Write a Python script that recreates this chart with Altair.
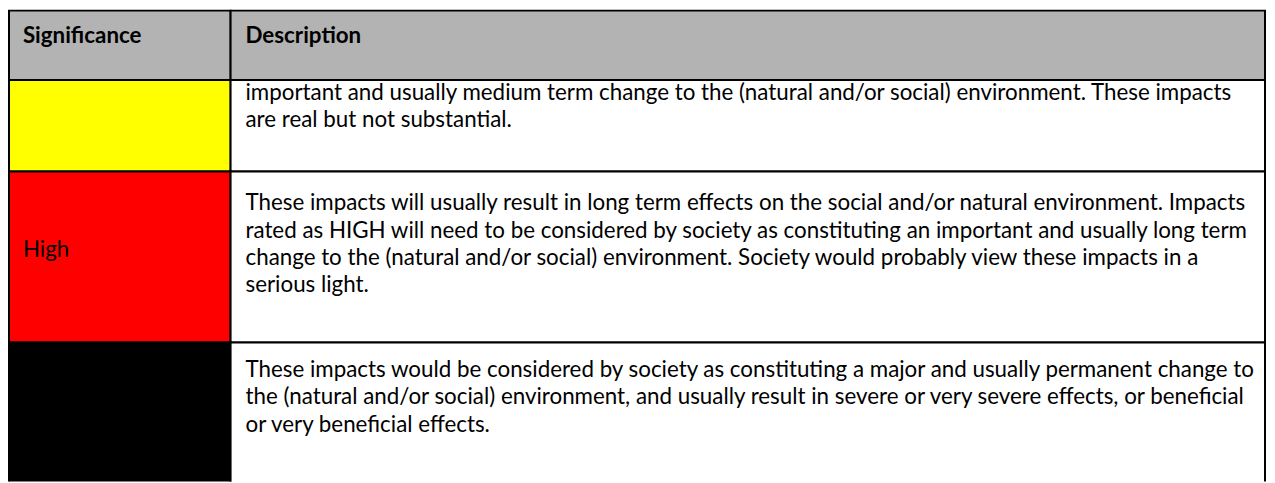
import altair as alt
import pandas as pd

# ---- content ----
header_labels = ["Significance", "Description"]
significance = ["", "High", ""]
row_colors = ["#FFFF00", "#FF0000", "#000000"]
header_color = "#B3B3B3"
descriptions = [
    [
        "important and usually medium term change to the (natural and/or social) environment. These impacts",
        "are real but not substantial.",
    ],
    [
        "These impacts will usually result in long term effects on the social and/or natural environment. Impacts",
        "rated as HIGH will need to be considered by society as constituting an important and usually long term",
        "change to the (natural and/or social) environment. Society would probably view these impacts in a",
        "serious light.",
    ],
    [
        "These impacts would be considered by society as constituting a major and usually permanent change to",
        "the (natural and/or social) environment, and usually result in severe or very severe effects, or beneficial",
        "or very beneficial effects.",
    ],
]

# ---- layout ----
W, H = 1267, 475
col_edges = [1, 224, 1265]
row_edges = [1, 71, 163, 335, 482]
first_baseline = [34, 91, 202, 370]
high_baseline = 249
line_gap = 27.5
text_x = [15, 239]
FONT = "Lato"
FS = 22.5

cells = []
for c in range(2):
    cells.append(dict(x0=col_edges[c], x1=col_edges[c + 1], y0=row_edges[0], y1=row_edges[1], fill=header_color))
for r in range(3):
    cells.append(dict(x0=col_edges[0], x1=col_edges[1], y0=row_edges[r + 1], y1=row_edges[r + 2], fill=row_colors[r]))
    cells.append(dict(x0=col_edges[1], x1=col_edges[2], y0=row_edges[r + 1], y1=row_edges[r + 2], fill="#FFFFFF"))
cells_df = pd.DataFrame(cells)

head_df = pd.DataFrame(
    [dict(x=text_x[c], y=first_baseline[0], text=header_labels[c]) for c in range(2)]
)

body = []
for r in range(3):
    body.append(dict(x=text_x[0], y=high_baseline if significance[r] else first_baseline[r + 1], text=significance[r]))
    for i, line in enumerate(descriptions[r]):
        body.append(dict(x=text_x[1], y=first_baseline[r + 1] + i * line_gap, text=line))
body_df = pd.DataFrame(body)

xs = alt.Scale(domain=[0, W])
ys = alt.Scale(domain=[0, H], reverse=True)

rects = alt.Chart(cells_df).mark_rect(stroke="black", strokeWidth=2, clip=True).encode(
    x=alt.X("x0:Q", scale=xs, axis=None),
    x2="x1:Q",
    y=alt.Y("y0:Q", scale=ys, axis=None),
    y2="y1:Q",
    fill=alt.Fill("fill:N", scale=None),
)

head = alt.Chart(head_df).mark_text(
    align="left", baseline="alphabetic", font=FONT, fontSize=FS, fontWeight="bold", color="#000000"
).encode(
    x=alt.X("x:Q", scale=xs, axis=None),
    y=alt.Y("y:Q", scale=ys, axis=None),
    text="text:N",
)

txt = alt.Chart(body_df).mark_text(
    align="left", baseline="alphabetic", font=FONT, fontSize=FS, color="#000000"
).encode(
    x=alt.X("x:Q", scale=xs, axis=None),
    y=alt.Y("y:Q", scale=ys, axis=None),
    text="text:N",
)

chart = (
    alt.layer(rects, head, txt)
    .properties(width=W, height=H, padding=0, autosize=alt.AutoSizeParams(type="none"))
    .configure_view(stroke=None)
)

chart.save("out.html", embed_options={"renderer": "svg", "actions": False})
